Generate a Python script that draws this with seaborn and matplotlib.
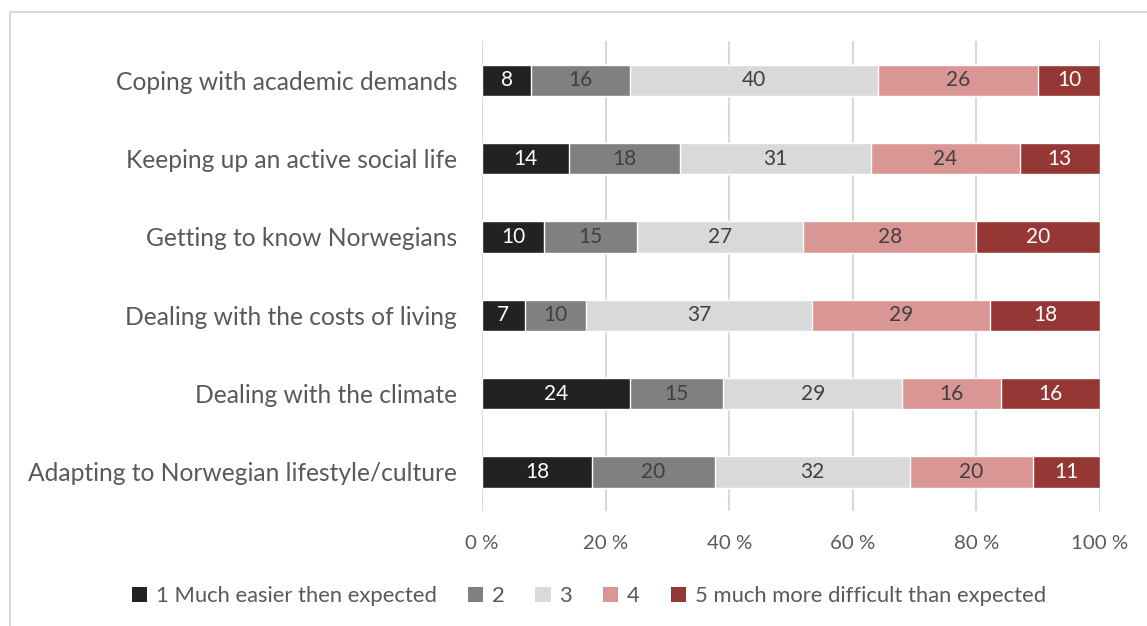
#!/usr/bin/env python3
#===============================================================================
# plot stacked 100 % bars: experienced difficulty
#===============================================================================

# Imports ======================================================================

import matplotlib
matplotlib.use('Agg')
import matplotlib.pyplot as plt
from matplotlib.patches import Rectangle, Patch
import numpy as np
import pandas as pd
import seaborn as sns

# Data =========================================================================

categories = [
    'Coping with academic demands',
    'Keeping up an active social life',
    'Getting to know Norwegians',
    'Dealing with the costs of living',
    'Dealing with the climate',
    'Adapting to Norwegian lifestyle/culture',
]
level_names = [
    '1 Much easier then expected',
    '2',
    '3',
    '4',
    '5 much more difficult than expected',
]
level1 = [8, 14, 10, 7, 24, 18]
level2 = [16, 18, 15, 10, 15, 20]
level3 = [40, 31, 27, 37, 29, 32]
level4 = [26, 24, 28, 29, 16, 20]
level5 = [10, 13, 20, 18, 16, 11]

colors = ['#222222', '#808080', '#d9d9d9', '#da9694', '#953735']
text_colors = ['white', '#404040', '#404040', '#404040', 'white']
xticks = [0, 20, 40, 60, 80, 100]
xtick_labels = ['0 %', '20 %', '40 %', '60 %', '80 %', '100 %']

# Main =========================================================================

def main():
    sns.set_theme(style='white')
    plt.rcParams['font.family'] = ['Lato', 'DejaVu Sans']

    levels = np.array([level1, level2, level3, level4, level5], dtype=float)
    share = levels / levels.sum(axis=0) * 100
    cum = share.cumsum(axis=0)
    left = cum - share

    fig = plt.figure(figsize=(11.47, 6.26), dpi=100)
    fig.patches.append(Rectangle((10 / 1147, -0.1), 1.2, 1.1 - 12 / 626,
                                 transform=fig.transFigure, fill=False,
                                 edgecolor='#d9d9d9', linewidth=1.5))
    ax = fig.add_axes([482 / 1147, 1 - 511 / 626, 618 / 1147, 470 / 626])

    # layered cumulative bars, widest first
    for i in range(len(level_names) - 1, -1, -1):
        df = pd.DataFrame({'category': categories, 'value': cum[i]})
        sns.barplot(data=df, x='value', y='category', orient='h',
                    color=colors[i], saturation=1, width=0.4, ax=ax,
                    zorder=3)

    for i in range(len(level_names)):
        for j in range(len(categories)):
            ax.text(left[i, j] + share[i, j] / 2, j, str(int(levels[i, j])),
                    ha='center', va='center', fontsize=15,
                    color=text_colors[i], zorder=4)

    ax.set_xlim(0, 100)
    ax.set_ylim(5.5, -0.5)
    ax.set_xticks(xticks)
    ax.set_xticklabels(xtick_labels)
    ax.set_xlabel('')
    ax.set_ylabel('')
    ax.xaxis.grid(True, color='#d9d9d9', linewidth=1.5, zorder=0)
    ax.set_axisbelow(True)
    for s in ax.spines.values():
        s.set_visible(False)
    ax.tick_params(axis='x', labelsize=14.7, labelcolor='#595959', pad=17,
                   length=0)
    ax.tick_params(axis='y', labelsize=17.7, labelcolor='#595959', pad=18,
                   length=0)

    handles = [Patch(facecolor=c, edgecolor='none') for c in colors]
    fig.legend(handles, level_names, loc='center', ncol=5, frameon=False,
               bbox_to_anchor=(589 / 1147, 1 - 596 / 626), fontsize=15.8,
               labelcolor='#595959', handlelength=0.7, handleheight=0.7,
               handletextpad=0.4, columnspacing=1.4)

    fig.savefig('out.png', dpi=100)


# Execute ======================================================================

if __name__ == '__main__':
    main()
